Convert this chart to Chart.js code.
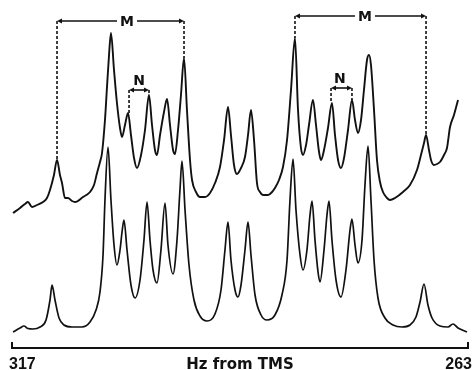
<!DOCTYPE html>
<html>
<head>
<meta charset="utf-8">
<script src="https://cdn.jsdelivr.net/npm/chart.js@4/dist/chart.umd.min.js"></script>
<style>
  html, body { margin: 0; padding: 0; background: #fff; }
  #wrap { width: 472px; height: 370px; }
</style>
</head>
<body>
<div id="wrap"><canvas id="nmrChart" width="472" height="370"></canvas></div>
<script>
// NMR spectrum, Hz from TMS (317 on the left, 263 on the right)
// intensities are arbitrary units; the experimental trace sits above the calculated one

// calculated (lower) spectrum
const calcHz = [316.88,316.05,315.58,315.11,314.51,313.68,312.97,312.50,312.26,311.91,
    311.43,310.84,309.89,308.71,307.76,307.05,306.58,306.22,305.99,305.63,
    305.28,304.92,304.57,304.21,303.97,303.74,303.38,302.91,302.43,301.84,
    301.37,301.01,300.66,300.30,299.83,299.36,298.88,298.53,297.93,297.46,
    297.11,296.87,296.51,296.04,295.45,294.74,293.91,292.96,292.25,291.78,
    291.42,291.07,290.59,290.24,289.88,289.41,289.05,288.70,288.22,287.51,
    286.80,285.86,285.03,284.43,284.08,283.72,283.37,282.89,282.54,282.07,
    281.71,281.47,281.12,280.76,280.53,280.05,279.70,279.46,279.11,278.63,
    278.04,277.45,276.97,276.74,276.38,276.03,275.55,275.20,274.84,274.49,
    274.13,273.66,272.83,271.88,270.82,269.87,269.16,268.68,268.21,267.74,
    267.26,266.32,265.37,264.78,264.18,263.12];
const calcInt = [16,20,22,19.5,19,21,28,48,63,48,
    30,23,21,21,26,38,56,93,148,201,
    148,103,83,98,116,128,98,63,50,68,
    108,146,108,78,65,98,145,103,74,108,
    158,187,138,83,48,32,27,34,58,98,
    126,88,58,51,63,98,126,93,53,33,
    28,33,53,88,148,189,138,93,78,98,
    133,147,108,76,66,98,133,147,108,68,
    51,78,118,129,103,85,108,163,202,148,
    88,50,30,23,21,23,31,46,64,43,
    30,22,21,24,20,16];

// experimental (upper) spectrum
const expHz = [316.88,316.05,315.46,315.11,314.63,314.04,313.33,312.86,312.50,312.03,
    311.67,311.32,311.08,310.72,310.37,309.89,309.54,308.59,307.76,307.29,
    306.93,306.58,306.34,305.99,305.75,305.51,305.28,304.92,304.57,304.21,
    303.97,303.62,303.26,302.91,302.55,302.20,301.72,301.25,300.78,300.42,
    300.07,299.83,299.47,299.00,298.64,298.29,297.93,297.70,297.34,296.99,
    296.63,296.28,295.92,295.68,295.21,294.74,294.14,293.55,292.96,292.37,
    291.89,291.42,291.07,290.71,290.36,289.88,289.41,289.05,288.70,288.34,
    287.99,287.63,287.28,286.68,286.21,285.86,285.38,284.91,284.43,283.96,
    283.49,283.13,282.78,282.54,282.18,281.83,281.36,281.00,280.64,280.41,
    280.05,279.58,279.11,278.75,278.39,278.04,277.68,277.21,276.74,276.38,
    276.03,275.67,275.32,274.96,274.72,274.49,274.13,273.78,273.42,273.07,
    272.59,272.24,271.64,270.70,269.87,269.04,268.57,268.21,267.97,267.62,
    267.38,267.03,266.67,266.32,265.84,265.49,265.13,264.66,264.18];
const expInt = [135,140,144,146,141,143,146,150,158,173,
    188,173,165,150,150,147,146,151,156,163,
    175,186,195,228,261,293,315,278,245,220,
    211,223,235,213,190,180,193,218,253,223,
    198,193,213,236,249,223,198,194,218,253,
    290,238,188,168,156,151,151,155,165,181,
    208,241,213,183,174,180,191,213,238,208,
    165,156,153,153,156,160,168,181,208,258,
    310,238,200,193,203,223,248,223,196,188,
    198,220,245,213,188,180,190,218,248,228,
    215,228,258,288,293,283,238,188,166,156,
    150,148,150,156,163,178,193,205,213,198,
    188,183,184,186,193,200,221,233,248];

// axis end labels
const axisTicks = [317, 263];
const axisTitle = 'Hz from TMS';

// splittings marked on the experimental trace
const brackets = [
    { label: 'M', from: 311.67, to: 296.63, level: 327, drop: [188, 290], at: 303.38 },
    { label: 'M', from: 283.49, to: 267.97, level: 332, drop: [310, 213], at: 275.20 },
    { label: 'N', from: 303.14, to: 300.78, level: 258, drop: [235, 253], at: 301.96 },
    { label: 'N', from: 279.22, to: 276.74, level: 260, drop: [245, 248], at: 278.16 }
];

const toPoints = (xs, ys) => xs.map((x, i) => ({ x: x, y: ys[i] }));

const ink = '#111';

const annotate = {
    id: 'annotate',
    afterDraw(chart) {
        const ctx = chart.ctx;
        const xs = chart.scales.x, ys = chart.scales.y;
        const base = ys.getPixelForValue(0);
        const xl = xs.getPixelForValue(axisTicks[0]);
        const xr = xs.getPixelForValue(axisTicks[1]);
        ctx.save();
        ctx.strokeStyle = ink;
        ctx.fillStyle = ink;

        // axis line with end ticks
        ctx.lineWidth = 2;
        ctx.beginPath();
        ctx.moveTo(xl, base - 6);
        ctx.lineTo(xl, base);
        ctx.lineTo(xr, base);
        ctx.lineTo(xr, base - 6);
        ctx.stroke();

        ctx.textBaseline = 'alphabetic';
        ctx.font = 'bold 16px "Liberation Sans", Arial, sans-serif';
        ctx.textAlign = 'left';
        ctx.fillText(String(axisTicks[0]), xl - 3, base + 21);
        ctx.textAlign = 'right';
        ctx.fillText(String(axisTicks[1]), xr + 4, base + 21);
        ctx.font = 'bold 15px "DejaVu Sans", sans-serif';
        ctx.textAlign = 'center';
        ctx.fillText(axisTitle, (xl + xr) / 2, base + 21);

        // brackets
        brackets.forEach(b => {
            const x1 = xs.getPixelForValue(b.from);
            const x2 = xs.getPixelForValue(b.to);
            const y = ys.getPixelForValue(b.level);
            const big = b.label === 'M';

            ctx.lineWidth = 1.6;
            ctx.setLineDash([3, 2]);
            ctx.beginPath();
            ctx.moveTo(x1, y);
            ctx.lineTo(x1, ys.getPixelForValue(b.drop[0]));
            ctx.moveTo(x2, y);
            ctx.lineTo(x2, ys.getPixelForValue(b.drop[1]));
            ctx.stroke();
            ctx.setLineDash([]);

            ctx.lineWidth = 1.6;
            ctx.beginPath();
            ctx.moveTo(x1 + 2, y);
            ctx.lineTo(x2 - 2, y);
            ctx.stroke();

            // arrow heads pointing outwards
            const ah = 5, aw = 2.6;
            ctx.beginPath();
            ctx.moveTo(x1, y);
            ctx.lineTo(x1 + ah, y - aw);
            ctx.lineTo(x1 + ah, y + aw);
            ctx.closePath();
            ctx.moveTo(x2, y);
            ctx.lineTo(x2 - ah, y - aw);
            ctx.lineTo(x2 - ah, y + aw);
            ctx.closePath();
            ctx.fill();

            const lx = xs.getPixelForValue(b.at);
            ctx.font = 'bold 14px "DejaVu Sans", sans-serif';
            ctx.textAlign = 'center';
            if (big) {
                ctx.fillStyle = '#fff';
                ctx.fillRect(lx - 10, y - 3, 20, 6);
                ctx.fillStyle = ink;
                ctx.textBaseline = 'middle';
                ctx.fillText(b.label, lx, y + 1);
            } else {
                ctx.textBaseline = 'alphabetic';
                ctx.fillText(b.label, lx, y - 5);
            }
        });
        ctx.restore();
    }
};

const chart = new Chart(document.getElementById('nmrChart').getContext('2d'), {
    type: 'line',
    data: {
        datasets: [{
            label: 'experimental',
            data: toPoints(expHz, expInt),
            borderColor: ink,
            borderWidth: 1.9,
            cubicInterpolationMode: 'monotone',
            pointRadius: 0,
            fill: false
        }, {
            label: 'calculated',
            data: toPoints(calcHz, calcInt),
            borderColor: ink,
            borderWidth: 1.7,
            cubicInterpolationMode: 'monotone',
            pointRadius: 0,
            fill: false
        }]
    },
    options: {
        responsive: false,
        animation: false,
        layout: { padding: { left: 12, right: 4, top: 0, bottom: 22 } },
        scales: {
            x: { type: 'linear', min: 263, max: 317, reverse: true, display: false },
            y: { min: 0, max: 348, display: false }
        },
        plugins: {
            legend: { display: false },
            tooltip: { enabled: false }
        }
    },
    plugins: [annotate]
});
</script>
</body>
</html>
